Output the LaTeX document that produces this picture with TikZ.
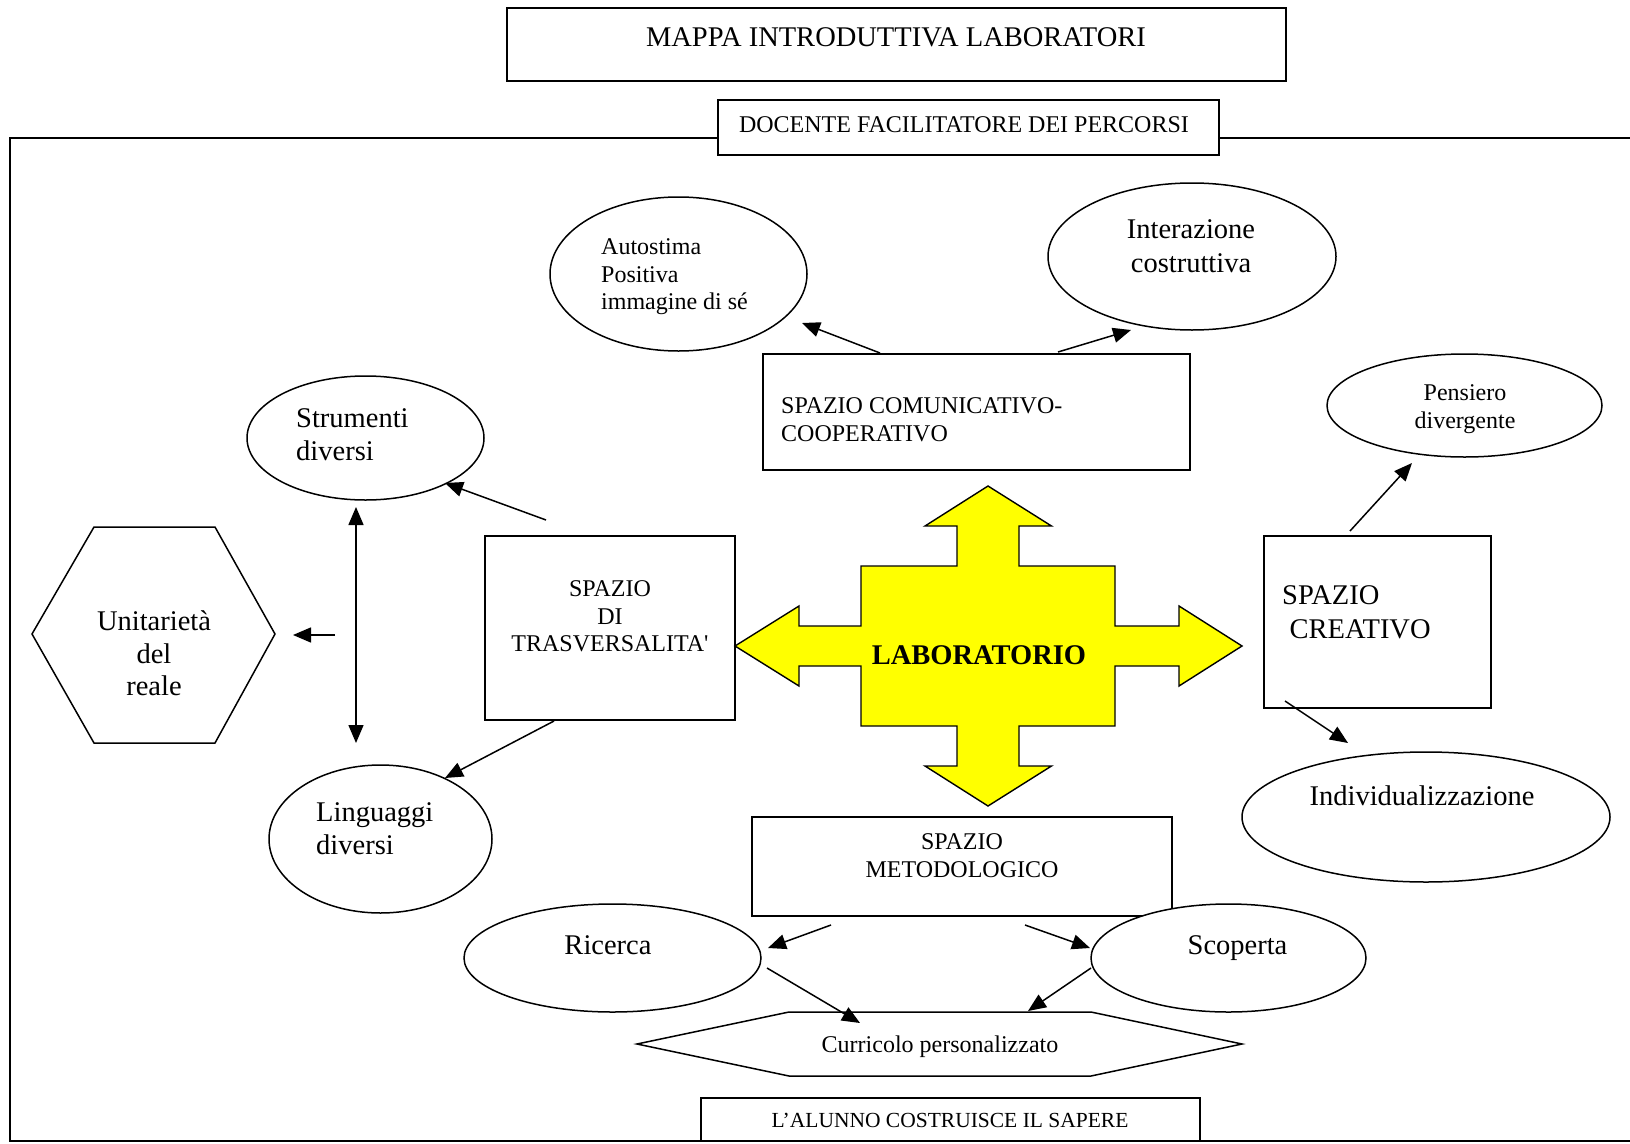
\documentclass[tikz,border=0pt]{standalone}
\usepackage{fontspec}
\setmainfont{Liberation Serif}
% same face without the TeX quote mapping, for a straight apostrophe
\newfontfamily\straightq{Liberation Serif}
\usetikzlibrary{arrows.meta,shapes.geometric}

\newcommand{\fsA}{\fontsize{28.5}{33.5}\selectfont}
\newcommand{\fsB}{\fontsize{24}{27.6}\selectfont}

\tikzset{
  box/.style={draw, line width=1.6pt, fill=white, inner sep=0pt},
  oval/.style={draw, ellipse, line width=1.5pt, fill=white, inner sep=0pt},
  txt/.style={inner sep=0pt},
  conn/.style={line width=1.5pt, -{Triangle[length=18pt,width=15pt]}},
  twoway/.style={line width=1.5pt, {Triangle[length=18pt,width=15pt]}-{Triangle[length=18pt,width=15pt]}},
  labcross/.style={draw, line width=1.4pt, fill={rgb,255:red,255;green,255;blue,0}, line join=miter}
}

\begin{document}
\begin{tikzpicture}[x=1pt, y=-1pt]
\useasboundingbox (0,0) rectangle (1630,1143);
\clip (0,0) rectangle (1630,1143);
\fill[white] (0,0) rectangle (1630,1143);

% outer frame (its right side runs past the page edge)
\draw[line width=1.6pt] (10,138) rectangle (1700,1141);

% title and header
\node[box, minimum width=779pt, minimum height=73pt] (title) at (896.5,44.5) {};
\node[txt, font=\fsA] (titleT) at (896,37.5) {MAPPA INTRODUTTIVA LABORATORI};
\node[box, minimum width=501pt, minimum height=55pt] (doc) at (968.5,127.5) {};
\node[txt, font=\fsB] (docT) at (964,125) {DOCENTE FACILITATORE DEI PERCORSI};

% upper area
\node[oval, minimum width=257pt, minimum height=154pt] (auto) at (678.5,274) {};
\node[txt, anchor=west, align=left, font=\fontsize{24}{27.5}\selectfont] (autoT) at (601,277) {Autostima\\Positiva\\immagine di sé};
\node[oval, minimum width=288pt, minimum height=147pt] (inter) at (1192,256.5) {};
\node[txt, align=center, font=\fontsize{28.5}{34}\selectfont] (interT) at (1191,246) {Interazione\\costruttiva};
\node[box, minimum width=427pt, minimum height=116pt] (com) at (976.5,412) {};
\node[txt, anchor=west, align=left, font=\fsB] (comT) at (781,420) {SPAZIO COMUNICATIVO-\\COOPERATIVO};
\node[oval, minimum width=275pt, minimum height=103pt] (pens) at (1464.5,405.5) {};
\node[txt, align=center, font=\fontsize{24}{28}\selectfont] (pensT) at (1465,409) {Pensiero\\divergente};

% left area
\node[oval, minimum width=237pt, minimum height=124pt] (strum) at (365.5,438) {};
\node[txt, anchor=west, align=left, font=\fontsize{28.5}{33}\selectfont] (strumT) at (296,435) {Strumenti\\diversi};
\draw[line width=1.5pt] (32,634) -- (94,527) -- (215,527) -- (275,634) -- (215,743) -- (94,743) -- cycle;
\node[txt, align=center, font=\fontsize{28.5}{32.7}\selectfont] (uniT) at (154,653.5) {Unitarietà\\del\\reale};
\node[box, minimum width=250pt, minimum height=184pt] (tras) at (610,628) {};
\node[txt, align=center, font=\fontsize{24}{27.7}\selectfont] (trasT) at (610,616.5) {SPAZIO\\DI\\TRASVERSALITA{\straightq '}};
\node[oval, minimum width=223pt, minimum height=148pt] (ling) at (380.5,839) {};
\node[txt, anchor=west, align=left, font=\fontsize{28.5}{33}\selectfont] (lingT) at (316,828.5) {Linguaggi\\diversi};

% right area
\node[box, minimum width=227pt, minimum height=172pt] (crea) at (1377.5,622) {};
\node[txt, anchor=west, align=left, font=\fontsize{28.5}{34}\selectfont] (creaT) at (1282,612.5) {SPAZIO\\\hspace*{7.5pt}CREATIVO};
\node[oval, minimum width=368pt, minimum height=130pt] (indiv) at (1426,817) {};
\node[txt, font=\fsA] (indivT) at (1422,796) {Individualizzazione};

% lower area
\node[box, minimum width=420pt, minimum height=99pt] (met) at (962,866.5) {};
\node[txt, align=center, font=\fontsize{24}{27.5}\selectfont] (metT) at (962,855.5) {SPAZIO\\METODOLOGICO};
\node[oval, minimum width=297pt, minimum height=108pt] (ric) at (612.5,958) {};
\node[txt, font=\fsA, anchor=base] (ricT) at (608,954) {Ricerca};
\node[oval, minimum width=275pt, minimum height=108pt] (scop) at (1228.5,958) {};
\node[txt, font=\fsA, anchor=base] (scopT) at (1237.5,954) {Scoperta};
\draw[line width=1.5pt, fill=white] (637,1044) -- (789,1012) -- (1091,1012) -- (1242,1044) -- (1091,1076) -- (789,1076) -- cycle;
\node[txt, font=\fsB, anchor=base] (currT) at (940,1052.5) {Curricolo personalizzato};
\node[box, minimum width=499pt, minimum height=43pt] (alu) at (950.5,1119.5) {};
\node[txt, font=\fontsize{21.5}{25}\selectfont] (aluT) at (950,1120) {L’ALUNNO COSTRUISCE IL SAPERE};

% central four-way arrow
\draw[labcross] (988,486) -- (1051.5,526) -- (1019,526) -- (1019,566) -- (1115,566)
  -- (1115,626) -- (1179,626) -- (1179,606) -- (1242,646) -- (1179,686) -- (1179,666)
  -- (1115,666) -- (1115,726) -- (1019,726) -- (1019,766) -- (1051.5,766) -- (988,806)
  -- (925,766) -- (957,766) -- (957,726) -- (861,726) -- (861,666) -- (799,666)
  -- (799,686) -- (735,646) -- (799,606) -- (799,626) -- (861,626) -- (861,566)
  -- (957,566) -- (957,526) -- (925,526) -- cycle;
\node[txt, font=\fontsize{28.5}{33}\selectfont\bfseries] (lab) at (979,655) {LABORATORIO};

% connector end points
\coordinate (comL) at (880,353);   \coordinate (autoIn) at (802,323);
\coordinate (comR) at (1058,352);  \coordinate (interIn) at (1131,330);
\coordinate (trasU) at (546,520);  \coordinate (strumIn) at (445,483);
\coordinate (trasD) at (554,721);  \coordinate (lingIn) at (445,778);
\coordinate (uniOut) at (335,635); \coordinate (uniIn) at (293,635);
\coordinate (vTop) at (356,507);   \coordinate (vBot) at (356,743);
\coordinate (creaU) at (1350,531); \coordinate (pensIn) at (1412,463);
\coordinate (creaD) at (1285,701); \coordinate (indivIn) at (1348,743);
\coordinate (metL) at (831,925);   \coordinate (ricIn) at (768,948);
\coordinate (metR) at (1025,925);  \coordinate (scopIn) at (1090,948);
\coordinate (ricOut) at (767,968); \coordinate (currInL) at (860,1023);
\coordinate (scopOut) at (1091,968); \coordinate (currInR) at (1028,1011);

% connectors
\draw[conn] (comL) -- (autoIn);
\draw[conn] (comR) -- (interIn);
\draw[conn] (trasU) -- (strumIn);
\draw[conn] (trasD) -- (lingIn);
\draw[conn] (uniOut) -- (uniIn);
\draw[twoway] (vTop) -- (vBot);
\draw[conn] (creaU) -- (pensIn);
\draw[conn] (creaD) -- (indivIn);
\draw[conn] (metL) -- (ricIn);
\draw[conn] (metR) -- (scopIn);
\draw[conn] (ricOut) -- (currInL);
\draw[conn] (scopOut) -- (currInR);
\end{tikzpicture}
\end{document}
